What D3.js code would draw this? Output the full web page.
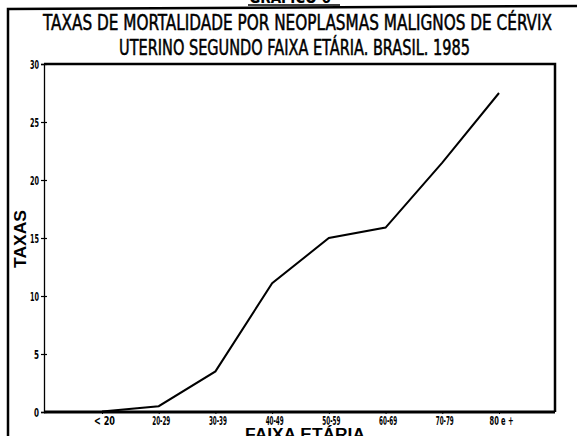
<!DOCTYPE html>
<html>
<head>
<meta charset="utf-8">
<script src="https://cdn.jsdelivr.net/npm/d3@7"></script>
<style>
  body { margin: 0; background: #fff; }
  svg { display: block; }
  text { fill: #000; }
</style>
</head>
<body>
<svg width="577" height="436"></svg>
<script>
// données du graphique
const faixas = ["< 20", "20-29", "30-39", "40-49", "50-59", "60-69", "70-79", "80 e +"];
const taxas = [0.05, 0.5, 3.5, 11.1, 15.0, 15.9, 21.5, 27.5];
const ticksY = [0, 5, 10, 15, 20, 25, 30];

const svg = d3.select("svg");
const police = "'Liberation Sans Narrow', 'DejaVu Sans Condensed', 'Liberation Sans', sans-serif";

// échelles
const x = d3.scalePoint().domain(faixas).range([102, 499]);
const y = d3.scaleLinear().domain([0, 30]).range([412, 64]);

// cadre extérieur
svg.append("path")
  .attr("d", "M8,436 L8,9 L577,6")
  .attr("fill", "none").attr("stroke", "#000").attr("stroke-width", 2.5);

// titre "GRÁFICO 6" coupé en haut
svg.append("text")
  .attr("x", 290).attr("y", 3)
  .attr("text-anchor", "middle")
  .style("font", "bold 15px " + police)
  .text("GRÁFICO 6");
svg.append("line")
  .attr("x1", 248).attr("x2", 340).attr("y1", 5).attr("y2", 5)
  .attr("stroke", "#000").attr("stroke-width", 1.5);

// titre
svg.append("text")
  .attr("x", 43).attr("y", 30)
  .attr("textLength", 509).attr("lengthAdjust", "spacingAndGlyphs")
  .attr("stroke", "#000").attr("stroke-width", 0.5)
  .style("font", "21px " + police)
  .text("TAXAS DE MORTALIDADE POR NEOPLASMAS MALIGNOS DE CÉRVIX");
svg.append("text")
  .attr("x", 119).attr("y", 55)
  .attr("textLength", 351).attr("lengthAdjust", "spacingAndGlyphs")
  .attr("stroke", "#000").attr("stroke-width", 0.5)
  .style("font", "21px " + police)
  .text("UTERINO SEGUNDO FAIXA ETÁRIA. BRASIL. 1985");

// cadre du graphique
svg.append("path")
  .attr("d", `M44,${y(30)} L555,${y(30)} L555,${y(0)}`)
  .attr("fill", "none").attr("stroke", "#000").attr("stroke-width", 2.5);

// axe Y
const axeY = svg.append("g").attr("transform", "translate(44,0)")
  .call(d3.axisLeft(y).tickValues(ticksY).tickSize(3).tickPadding(2));
axeY.select(".domain").attr("stroke-width", 1.3);
axeY.selectAll(".tick line").attr("x2", 3).attr("x1", -3).attr("stroke-width", 1.2);
axeY.selectAll(".tick text")
  .style("font", "bold 13px " + police)
  .attr("textLength", d => d < 10 ? 5 : 9).attr("lengthAdjust", "spacingAndGlyphs");

// axe X
const axeX = svg.append("g").attr("transform", `translate(0,${y(0)})`)
  .call(d3.axisBottom(x).tickSize(2).tickPadding(2));
axeX.select(".domain").attr("d", "M44,0H555").attr("stroke-width", 3);
axeX.selectAll(".tick text")
  .attr("dx", 2)
  .style("font", "bold 13px " + police)
  .attr("textLength", d => d === "< 20" ? 21 : (d === "80 e +" ? 24 : 18))
  .attr("lengthAdjust", "spacingAndGlyphs");

// titres des axes
svg.append("text")
  .attr("transform", "translate(26,239) rotate(-90)")
  .attr("text-anchor", "middle")
  .attr("textLength", 58).attr("lengthAdjust", "spacingAndGlyphs")
  .style("font", "bold 16px 'Liberation Sans', sans-serif")
  .text("TAXAS");
svg.append("text")
  .attr("x", 305).attr("y", 440)
  .attr("text-anchor", "middle")
  .attr("textLength", 120).attr("lengthAdjust", "spacingAndGlyphs")
  .style("font", "bold 16px 'Liberation Sans', sans-serif")
  .text("FAIXA ETÁRIA");

// courbe
const ligne = d3.line()
  .x((d, i) => x(faixas[i]))
  .y(d => y(d));
svg.append("path")
  .datum(taxas)
  .attr("d", ligne)
  .attr("fill", "none").attr("stroke", "#000").attr("stroke-width", 2);
</script>
</body>
</html>
